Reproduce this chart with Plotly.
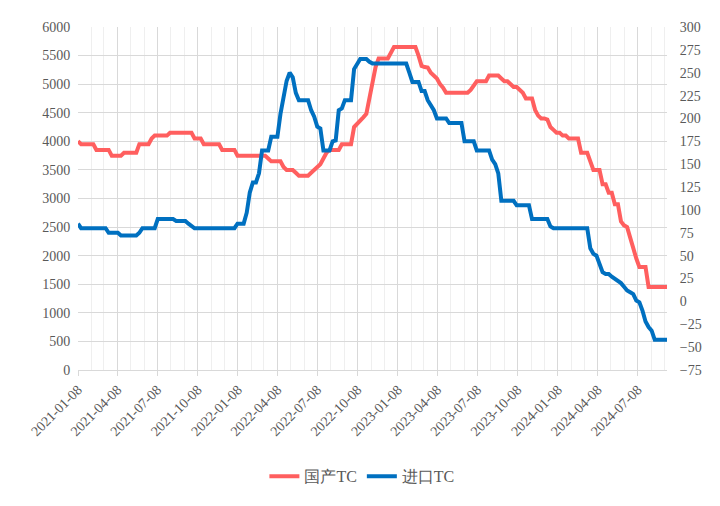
import pandas as pd
import plotly.graph_objects as go

# Weekly observations starting 2021-01-08
start_date = "2021-01-08"

domestic_tc = [
    4000, 3950, 3950, 3950, 3950, 3950, 3850, 3850, 3850, 3850,
    3850, 3750, 3750, 3750, 3750, 3800, 3800, 3800, 3800, 3800,
    3950, 3950, 3950, 3950, 4050, 4100, 4100, 4100, 4100, 4100,
    4150, 4150, 4150, 4150, 4150, 4150, 4150, 4150, 4050, 4050,
    4050, 3950, 3950, 3950, 3950, 3950, 3950, 3850, 3850, 3850,
    3850, 3850, 3750, 3750, 3750, 3750, 3750, 3750, 3750, 3750,
    3750, 3750, 3700, 3650, 3650, 3650, 3650, 3550, 3500, 3500,
    3500, 3450, 3400, 3400, 3400, 3400, 3450, 3500, 3550, 3600,
    3700, 3800, 3850, 3850, 3850, 3850, 3950, 3950, 3950, 3950,
    4250, 4300, 4370, 4420, 4480, 4750, 5100, 5300, 5450, 5450,
    5450, 5450, 5550, 5650, 5650, 5650, 5650, 5650, 5650, 5650,
    5650, 5500, 5320, 5300, 5290, 5200, 5150, 5100, 5000, 4940,
    4850, 4850, 4850, 4850, 4850, 4850, 4850, 4850, 4900, 4970,
    5050, 5050, 5050, 5050, 5150, 5150, 5150, 5150, 5100, 5050,
    5050, 5000, 4950, 4950, 4900, 4850, 4750, 4750, 4750, 4550,
    4450, 4400, 4400, 4380, 4250, 4200, 4150, 4150, 4100, 4100,
    4050, 4050, 4050, 4050, 3800, 3800, 3800, 3650, 3500, 3500,
    3500, 3250, 3250, 3100, 3100, 2900, 2900, 2600, 2530, 2500,
    2300, 2150, 1950, 1800, 1800, 1800, 1450, 1450, 1450, 1450,
    1450, 1450, 1450,
]

import_tc = [
    85, 80, 80, 80, 80, 80, 80, 80, 80, 80,
    75, 75, 75, 75, 72, 72, 72, 72, 72, 72,
    75, 80, 80, 80, 80, 80, 90, 90, 90, 90,
    90, 90, 88, 88, 88, 88, 85, 82, 80, 80,
    80, 80, 80, 80, 80, 80, 80, 80, 80, 80,
    80, 80, 85, 85, 85, 97, 119, 130, 130, 140,
    165, 165, 165, 180, 180, 180, 205, 225, 241, 250,
    245, 228, 220, 220, 220, 220, 209, 202, 191, 189,
    165, 165, 165, 175, 176, 209, 211, 220, 220, 220,
    254, 259, 265, 265, 265, 262, 260, 260, 260, 260,
    260, 260, 260, 260, 260, 260, 260, 260, 250, 240,
    240, 240, 230, 230, 220, 214, 209, 200, 200, 200,
    200, 195, 195, 195, 195, 195, 175, 175, 175, 175,
    165, 165, 165, 165, 165, 155, 150, 140, 110, 110,
    110, 110, 110, 105, 105, 105, 105, 105, 90, 90,
    90, 90, 90, 90, 82, 80, 80, 80, 80, 80,
    80, 80, 80, 80, 80, 80, 80, 58, 52, 50,
    40, 32, 30, 30, 27, 25, 22, 20, 16, 12,
    10, 8, 1, -1, -10, -22, -28, -32, -42, -42,
    -42, -42, -42,
]

series_names = ["国产TC", "进口TC"]
tick_dates = [
    "2021-01-08", "2021-04-08", "2021-07-08", "2021-10-08",
    "2022-01-08", "2022-04-08", "2022-07-08", "2022-10-08",
    "2023-01-08", "2023-04-08", "2023-07-08", "2023-10-08",
    "2024-01-08", "2024-04-08", "2024-07-08",
]

dates = pd.date_range(start_date, periods=len(domestic_tc), freq="7D")
dates2 = pd.date_range(start_date, periods=len(import_tc), freq="7D")

SERIF = "Liberation Serif"
TXT = "#595959"
GRID = "#d9d9d9"

fig = go.Figure()
fig.add_trace(go.Scatter(
    x=dates, y=domestic_tc, name=series_names[0], mode="lines",
    line=dict(color="#FF5F5F", width=4), yaxis="y",
))
fig.add_trace(go.Scatter(
    x=dates2, y=import_tc, name=series_names[1], mode="lines",
    line=dict(color="#0070C0", width=4), yaxis="y2",
))

fig.update_layout(
    width=720, height=506,
    margin=dict(l=70, r=61, t=14, b=144),
    plot_bgcolor="white",
    font=dict(family=SERIF, size=14, color=TXT),
    legend=dict(
        orientation="h",
        x=0.482, xanchor="center", y=-0.31, yanchor="middle",
        font=dict(family=SERIF, size=16),
    ),
    xaxis=dict(
        type="date",
        range=["2021-01-08", "2024-09-13"],
        tickmode="array",
        tickvals=tick_dates,
        ticktext=tick_dates,
        tickangle=-45,
        tickfont=dict(family=SERIF, size=14),
        showgrid=True, gridcolor=GRID, gridwidth=1,
        ticks="outside", ticklen=5, tickcolor=GRID,
        showline=True, linecolor=GRID, linewidth=1,
        minor=dict(dtick="M1", tick0="2021-01-08", showgrid=True,
                   gridcolor="#efefef", gridwidth=1),
        zeroline=False,
    ),
    yaxis=dict(
        range=[0, 6000], dtick=500, tick0=0,
        showgrid=True, gridcolor=GRID, gridwidth=1,
        zeroline=False, showline=False,
        ticks="outside", ticklen=4, tickcolor="rgba(0,0,0,0)",
        tickfont=dict(family=SERIF, size=14),
    ),
    yaxis2=dict(
        range=[-75, 300], dtick=25, tick0=-75,
        overlaying="y", side="right",
        showgrid=False, zeroline=False, showline=False,
        ticks="outside", ticklen=9, tickcolor="rgba(0,0,0,0)",
        tickfont=dict(family=SERIF, size=14),
    ),
)

fig.write_html("out.html")
